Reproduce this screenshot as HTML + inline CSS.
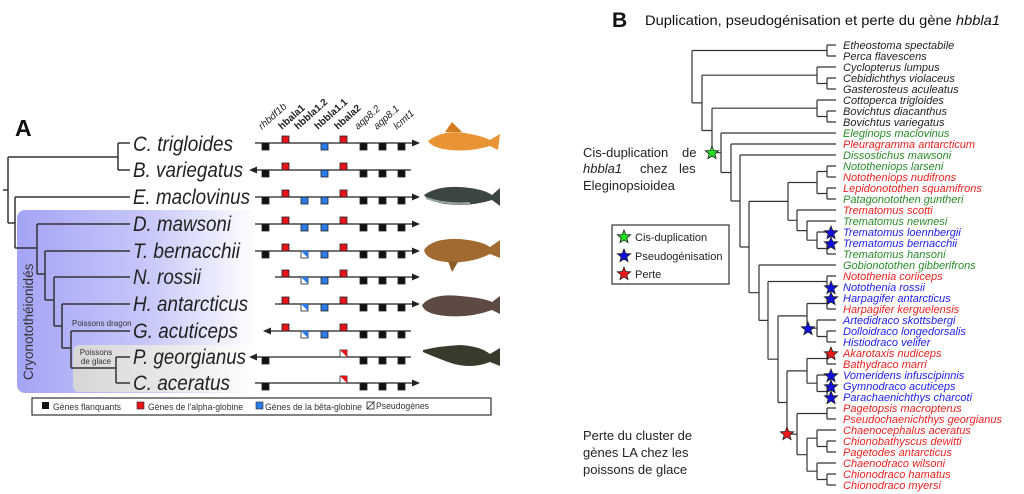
<!DOCTYPE html>
<html><head><meta charset="utf-8"><style>
html,body{margin:0;padding:0;background:#fff;}
svg{display:block;font-family:"Liberation Sans",sans-serif;}
</style></head><body>
<svg width="1024" height="494" viewBox="0 0 1024 494" xmlns="http://www.w3.org/2000/svg">
<defs>
<linearGradient id="gb" x1="0" x2="1" y1="0" y2="0"><stop offset="0" stop-color="#a4a4f6"/><stop offset="0.55" stop-color="#c8c8fa"/><stop offset="1" stop-color="#ffffff"/></linearGradient>
<linearGradient id="gg" x1="0" x2="1" y1="0" y2="0"><stop offset="0" stop-color="#d6d6d6"/><stop offset="0.6" stop-color="#ebebeb"/><stop offset="1" stop-color="#ffffff"/></linearGradient>
<path id="st" d="M0,-7L1.76,-2.43L6.66,-2.16L2.85,0.93L4.11,5.66L0,3L-4.11,5.66L-2.85,0.93L-6.66,-2.16L-1.76,-2.43Z" stroke="#222" stroke-width="0.8"/>
</defs>

<rect x="17" y="210" width="240" height="183" rx="8" fill="url(#gb)"/>
<rect x="73" y="345" width="180" height="47" rx="6" fill="url(#gg)"/>
<text x="15" y="136" font-size="23" font-weight="bold" fill="#111">A</text>
<text transform="translate(33,380) rotate(-90)" font-size="13.5" fill="#333">Cryonotothéionidés</text>
<text x="72" y="326" font-size="8" fill="#333">Poissons dragon</text>
<text x="96" y="355" font-size="8" fill="#333" text-anchor="middle">Poissons</text>
<text x="96" y="364" font-size="8" fill="#333" text-anchor="middle">de glace</text>

<path fill="none" stroke="#333" stroke-width="1.5" d="M3,190H8 M8,157V223 M8,157H118 M118,143V170 M118,143H130 M118,170H130 M8,223H15 M15,197V248 M15,197H130 M15,248H37 M37,224V274 M37,224H130 M37,274H45 M45,251V300 M45,251H130 M45,300H54 M54,277V326 M54,277H130 M54,326H62 M62,304V348 M62,304H130 M62,348H71 M71,331V368 M71,331H130 M71,368H116 M116,357V383 M116,357H130 M116,383H130"/>

<g font-size="21" font-style="italic" fill="#222">
<text x="133" y="151" textLength="100" lengthAdjust="spacingAndGlyphs">C. trigloides</text>
<text x="133" y="177" textLength="110" lengthAdjust="spacingAndGlyphs">B. variegatus</text>
<text x="133" y="204" textLength="117" lengthAdjust="spacingAndGlyphs">E. maclovinus</text>
<text x="133" y="231" textLength="98" lengthAdjust="spacingAndGlyphs">D. mawsoni</text>
<text x="133" y="258" textLength="107" lengthAdjust="spacingAndGlyphs">T. bernacchii</text>
<text x="133" y="284" textLength="68" lengthAdjust="spacingAndGlyphs">N. rossii</text>
<text x="133" y="311" textLength="115" lengthAdjust="spacingAndGlyphs">H. antarcticus</text>
<text x="133" y="338" textLength="105" lengthAdjust="spacingAndGlyphs">G. acuticeps</text>
<text x="133" y="364" textLength="113" lengthAdjust="spacingAndGlyphs">P. georgianus</text>
<text x="133" y="390" textLength="97" lengthAdjust="spacingAndGlyphs">C. aceratus</text>
</g>

<g font-size="10" fill="#222">
<text transform="translate(262,130) rotate(-42)" font-style="italic">rhbdf1b</text>
<text transform="translate(282,130) rotate(-42)" font-weight="bold">hbala1</text>
<text transform="translate(298,130) rotate(-42)" font-weight="bold">hbbla1.2</text>
<text transform="translate(318,130) rotate(-42)" font-weight="bold">hbbla1.1</text>
<text transform="translate(338,130) rotate(-42)" font-weight="bold">hbala2</text>
<text transform="translate(358,130) rotate(-42)" font-style="italic">aqp8.2</text>
<text transform="translate(377,130) rotate(-42)" font-style="italic">aqp8.1</text>
<text transform="translate(397,130) rotate(-42)" font-style="italic">lcmt1</text>
</g>

<g stroke="#222" stroke-width="1.3" fill="none">
<path d="M255,143H416"/><path d="M252,170H411"/><path d="M255,197H416"/><path d="M255,224H416"/><path d="M255,251H416"/>
<path d="M275,277H416"/><path d="M275,304H416"/><path d="M266,331H411"/><path d="M252,357H411"/><path d="M255,383H416"/>
</g>
<g fill="#222">
<path d="M420,143l-8,-3.5v7z"/><path d="M249,170l8,-3.5v7z"/><path d="M420,197l-8,-3.5v7z"/><path d="M420,224l-8,-3.5v7z"/><path d="M420,251l-8,-3.5v7z"/>
<path d="M420,277l-8,-3.5v7z"/><path d="M420,304l-8,-3.5v7z"/><path d="M263,331l8,-3.5v7z"/><path d="M249,357l8,-3.5v7z"/><path d="M420,383l-8,-3.5v7z"/>
</g>
<g stroke="#222" stroke-width="0.8">
<g fill="#111">
<rect x="262" y="143" width="7" height="7"/><rect x="360" y="143" width="7" height="7"/><rect x="379" y="143" width="7" height="7"/><rect x="398" y="143" width="7" height="7"/>
<rect x="262" y="170" width="7" height="7"/><rect x="360" y="170" width="7" height="7"/><rect x="379" y="170" width="7" height="7"/><rect x="398" y="170" width="7" height="7"/>
<rect x="262" y="197" width="7" height="7"/><rect x="360" y="197" width="7" height="7"/><rect x="379" y="197" width="7" height="7"/><rect x="398" y="197" width="7" height="7"/>
<rect x="262" y="224" width="7" height="7"/><rect x="360" y="224" width="7" height="7"/><rect x="379" y="224" width="7" height="7"/><rect x="398" y="224" width="7" height="7"/>
<rect x="262" y="251" width="7" height="7"/><rect x="360" y="251" width="7" height="7"/><rect x="379" y="251" width="7" height="7"/><rect x="398" y="251" width="7" height="7"/>
<rect x="360" y="277" width="7" height="7"/><rect x="379" y="277" width="7" height="7"/><rect x="398" y="277" width="7" height="7"/>
<rect x="360" y="304" width="7" height="7"/><rect x="379" y="304" width="7" height="7"/><rect x="398" y="304" width="7" height="7"/>
<rect x="360" y="331" width="7" height="7"/><rect x="379" y="331" width="7" height="7"/><rect x="398" y="331" width="7" height="7"/>
<rect x="262" y="357" width="7" height="7"/><rect x="360" y="357" width="7" height="7"/><rect x="379" y="357" width="7" height="7"/><rect x="398" y="357" width="7" height="7"/>
<rect x="262" y="383" width="7" height="7"/><rect x="360" y="383" width="7" height="7"/><rect x="379" y="383" width="7" height="7"/><rect x="398" y="383" width="7" height="7"/>
</g>
<g fill="#e8141c">
<rect x="282" y="136" width="7" height="7"/><rect x="340" y="136" width="7" height="7"/>
<rect x="282" y="163" width="7" height="7"/><rect x="340" y="163" width="7" height="7"/>
<rect x="282" y="190" width="7" height="7"/><rect x="340" y="190" width="7" height="7"/>
<rect x="282" y="217" width="7" height="7"/><rect x="340" y="217" width="7" height="7"/>
<rect x="282" y="244" width="7" height="7"/><rect x="340" y="244" width="7" height="7"/>
<rect x="282" y="270" width="7" height="7"/><rect x="340" y="270" width="7" height="7"/>
<rect x="282" y="297" width="7" height="7"/><rect x="340" y="297" width="7" height="7"/>
<rect x="282" y="324" width="7" height="7"/><rect x="340" y="324" width="7" height="7"/>
</g>
<g fill="#2a7ae8">
<rect x="321" y="143" width="7" height="7"/>
<rect x="321" y="170" width="7" height="7"/>
<rect x="301" y="197" width="7" height="7"/><rect x="321" y="197" width="7" height="7"/>
<rect x="301" y="224" width="7" height="7"/><rect x="321" y="224" width="7" height="7"/>
<rect x="321" y="251" width="7" height="7"/>
<rect x="321" y="277" width="7" height="7"/>
<rect x="321" y="304" width="7" height="7"/>
<rect x="321" y="331" width="7" height="7"/>
</g>
<g fill="#fff">
<rect x="301" y="251" width="7" height="7"/><rect x="301" y="277" width="7" height="7"/><rect x="301" y="304" width="7" height="7"/><rect x="301" y="331" width="7" height="7"/>
<rect x="340" y="350" width="7" height="7"/><rect x="340" y="376" width="7" height="7"/>
</g>
</g>
<g stroke="none">
<path d="M301,251h7v7z" fill="#2a7ae8"/><path d="M301,277h7v7z" fill="#2a7ae8"/><path d="M301,304h7v7z" fill="#2a7ae8"/><path d="M301,331h7v7z" fill="#2a7ae8"/>
<path d="M340,350h7v7z" fill="#e8141c"/><path d="M340,376h7v7z" fill="#e8141c"/>
</g>

<g>
<path d="M428,141 Q445,128 470,134 Q482,136 490,140 L500,134 L498,150 L490,146 Q470,152 450,150 Q432,148 428,141Z" fill="#e89434"/>
<path d="M445,132 L452,122 L462,132Z" fill="#d47a20"/>
<path d="M424,195 Q440,184 470,188 Q485,190 492,195 L500,188 L500,206 L492,200 Q470,207 445,204 Q428,201 424,195Z" fill="#3d4540"/>
<path d="M426,198 Q445,205 470,203" stroke="#9aa49e" stroke-width="2" fill="none"/>
<path d="M424,250 Q432,238 460,239 Q482,241 490,247 L500,240 L500,258 L490,254 Q470,264 446,262 Q426,260 424,250Z" fill="#a06a30"/>
<path d="M448,261 L452,272 L458,262Z" fill="#8a5a28"/>
<path d="M422,305 Q432,293 460,296 Q484,298 492,302 L500,296 L500,314 L492,310 Q470,318 446,316 Q424,314 422,305Z" fill="#5d4a42"/>
<path d="M423,350 Q440,346 460,345 Q480,346 490,354 L500,348 L500,366 L490,362 Q470,370 448,362 Q432,356 423,352Z" fill="#3a3a2c"/>
</g>

<rect x="32" y="398" width="459" height="17" fill="#fff" stroke="#333" stroke-width="1.2"/>
<g font-size="9" fill="#333">
<rect x="42" y="402" width="7" height="7" fill="#111"/><text x="53" y="410" textLength="68" lengthAdjust="spacingAndGlyphs">Gènes flanquants</text>
<rect x="137" y="402" width="7" height="7" fill="#e8141c" stroke="#222" stroke-width="0.6"/><text x="148" y="410" textLength="95" lengthAdjust="spacingAndGlyphs">Gènes de l'alpha-globine</text>
<rect x="256" y="402" width="7" height="7" fill="#2a7ae8" stroke="#222" stroke-width="0.6"/><text x="265" y="410" textLength="97" lengthAdjust="spacingAndGlyphs">Gènes de la bêta-globine</text>
<rect x="367" y="402" width="7" height="7" fill="#fff" stroke="#222" stroke-width="0.8"/><path d="M367,409L374,402" stroke="#222" stroke-width="0.8"/><text x="376" y="409" textLength="53" lengthAdjust="spacingAndGlyphs">Pseudogènes</text>
</g>

<text x="612" y="27" font-size="21" font-weight="bold" fill="#111">B</text>
<text x="645" y="25" font-size="14" fill="#111" textLength="355" lengthAdjust="spacingAndGlyphs">Duplication, pseudogénisation et perte du gène <tspan font-style="italic">hbbla1</tspan></text>

<path fill="none" stroke="#333" stroke-width="1.2" d="M827,45H836 M827,56H836 M827,45V56
M827,78H836M827,89H836M827,78V89
M817,67H836 M817,83.5H827 M817,67V83.5
M827,111H836M827,122H836M827,111V122
M817,100H836 M817,116.5H827 M817,100V116.5
M827,166H836M827,177H836M827,166V177
M827,188H836M827,199H836M827,188V199
M817,171.5H827M817,193.5H827M817,171.5V193.5
M827,243H836M827,254H836M827,243V254
M817,232H836M817,248.5H827M817,232V248.5
M807,221H836M807,240.2H817M807,221V240.2
M797,210H836M797,230.6H807M797,210V230.6
M788,182.5H817M788,220.3H797M788,182.5V220.3
M827,276H836M827,287H836M827,276V287
M827,298H836M827,309H836M827,298V309
M827,331H836M827,342H836M827,331V342
M817,320H836M817,336.5H827M817,320V336.5
M807,303.5H827M807,328.2H817M807,303.5V328.2
M827,353H836M827,364H836M827,353V364
M827,386H836M827,397H836M827,386V397
M817,375H836M817,391.5H827M817,375V391.5
M807,358.5H827M807,383.2H817M807,358.5V383.2
M827,408H836M827,419H836M827,408V419
M827,441H836M827,452H836M827,441V452
M817,430H836M817,446.5H827M817,430V446.5
M827,474H836M827,485H836M827,474V485
M817,463H836M817,479.5H827M817,463V479.5
M807,438.2H817M807,471.2H817M807,438.2V471.2
M797,413.5H827M797,454.7H807M797,413.5V454.7
M787,370.9H807M787,434.1H797M787,370.9V434.1
M778,315.9H807M778,402.5H787M778,315.9V402.5
M768,281.5H827M768,359.2H778M768,281.5V359.2
M759,265H836M759,320.4H768M759,265V320.4
M749,201.4H788M749,292.7H759M749,201.4V292.7
M740,155H836M740,247H749M740,155V247
M731,144H836M731,201H740M731,144V201
M721,133H836M721,172.5H731M721,133V172.5
M712,108.2H817M712,152.7H721M712,108.2V152.7
M702,75.2H817M702,130.5H712M702,75.2V130.5
M692,50.5H827M692,102.9H702M692,50.5V102.9"/>

<g font-size="11" font-style="italic">
<g fill="#222">
<text x="843" y="49">Etheostoma spectabile</text>
<text x="843" y="60">Perca flavescens</text>
<text x="843" y="71">Cyclopterus lumpus</text>
<text x="843" y="82">Cebidichthys violaceus</text>
<text x="843" y="93">Gasterosteus aculeatus</text>
<text x="843" y="104">Cottoperca trigloides</text>
<text x="843" y="115">Bovichtus diacanthus</text>
<text x="843" y="126">Bovichtus variegatus</text>
</g>
<text x="843" y="137" fill="#2a8c2a">Eleginops maclovinus</text>
<text x="843" y="148" fill="#f02020">Pleuragramma antarcticum</text>
<text x="843" y="159" fill="#2a8c2a">Dissostichus mawsoni</text>
<text x="843" y="170" fill="#2a8c2a">Nototheniops larseni</text>
<text x="843" y="181" fill="#f02020">Nototheniops nudifrons</text>
<text x="843" y="192" fill="#f02020">Lepidonotothen squamifrons</text>
<text x="843" y="203" fill="#2a8c2a">Patagonotothen guntheri</text>
<text x="843" y="214" fill="#f02020">Trematomus scotti</text>
<text x="843" y="225" fill="#2a8c2a">Trematomus newnesi</text>
<text x="843" y="236" fill="#2020f0">Trematomus loennbergii</text>
<text x="843" y="247" fill="#2020f0">Trematomus bernacchii</text>
<text x="843" y="258" fill="#2a8c2a">Trematomus hansoni</text>
<text x="843" y="269" fill="#2a8c2a">Gobionotothen gibberifrons</text>
<text x="843" y="280" fill="#f02020">Notothenia coriiceps</text>
<text x="843" y="291" fill="#2020f0">Notothenia rossii</text>
<text x="843" y="302" fill="#2020f0">Harpagifer antarcticus</text>
<text x="843" y="313" fill="#f02020">Harpagifer kerguelensis</text>
<text x="843" y="324" fill="#2020f0">Artedidraco skottsbergi</text>
<text x="843" y="335" fill="#2020f0">Dolloidraco longedorsalis</text>
<text x="843" y="346" fill="#2020f0">Histiodraco velifer</text>
<text x="843" y="357" fill="#f02020">Akarotaxis nudiceps</text>
<text x="843" y="368" fill="#f02020">Bathydraco marri</text>
<text x="843" y="379" fill="#2020f0">Vomeridens infuscipinnis</text>
<text x="843" y="390" fill="#2020f0">Gymnodraco acuticeps</text>
<text x="843" y="401" fill="#2020f0">Parachaenichthys charcoti</text>
<g fill="#f02020">
<text x="843" y="412">Pagetopsis macropterus</text>
<text x="843" y="423">Pseudochaenichthys georgianus</text>
<text x="843" y="434">Chaenocephalus aceratus</text>
<text x="843" y="445">Chionobathyscus dewitti</text>
<text x="843" y="456">Pagetodes antarcticus</text>
<text x="843" y="467">Chaenodraco wilsoni</text>
<text x="843" y="478">Chionodraco hamatus</text>
<text x="843" y="489">Chionodraco myersi</text>
</g>
</g>

<g fill="#1010e0">
<use href="#st" x="831" y="233"/><use href="#st" x="831" y="244"/>
<use href="#st" x="831" y="288"/><use href="#st" x="831" y="299"/>
<use href="#st" x="831" y="376"/><use href="#st" x="831" y="387"/><use href="#st" x="831" y="398"/>
<use href="#st" x="808" y="329"/>
</g>
<use href="#st" x="831" y="354" fill="#f01818"/>
<use href="#st" x="787" y="434" fill="#f01818"/>
<use href="#st" x="712" y="153" fill="#22e022"/>

<g font-size="13" fill="#222">
<text x="583" y="157">Cis-duplication <tspan x="682">de</tspan></text>
<text x="583" y="173"><tspan font-style="italic">hbbla1</tspan><tspan x="640">chez</tspan><tspan x="679">les</tspan></text>
<text x="583" y="190">Eleginopsioidea</text>
<text x="583" y="440">Perte du cluster de</text>
<text x="583" y="457">gènes LA chez les</text>
<text x="583" y="474">poissons de glace</text>
</g>

<rect x="612" y="225" width="117" height="59" fill="#fff" stroke="#333" stroke-width="1.2"/>
<use href="#st" x="624" y="237" fill="#22e022"/>
<use href="#st" x="624" y="256" fill="#1010e0"/>
<use href="#st" x="624" y="274" fill="#f01818"/>
<g font-size="11" fill="#222">
<text x="635" y="241">Cis-duplication</text>
<text x="635" y="260">Pseudogénisation</text>
<text x="635" y="278">Perte</text>
</g>
</svg>
</body></html>
